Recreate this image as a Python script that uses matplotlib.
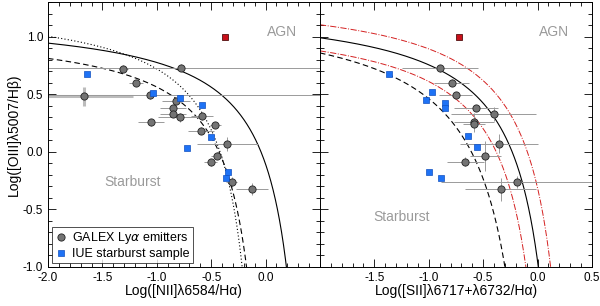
import numpy as np
import matplotlib
matplotlib.use("Agg")
import matplotlib.pyplot as plt
from matplotlib.ticker import MultipleLocator

plt.rcParams['font.family'] = ['Liberation Sans', 'DejaVu Sans']
plt.rcParams['font.size'] = 8.5

# GALEX Lya emitters, [NII] panel
nii_x = [-1.666, -1.308, -0.778, -1.191, -1.065, -0.826, -0.851, -0.851, -0.790,
         -1.053, -0.582, -0.462, -0.594, -0.352, -0.450, -0.505, -0.312, -0.125]
nii_y = [0.481, 0.722, 0.728, 0.597, 0.490, 0.437, 0.380, 0.328, 0.300,
         0.255, 0.310, 0.232, 0.183, 0.070, -0.035, -0.093, -0.263, -0.322]
nii_xerr = [0.45, 0.04, 1.8, 0.06, 1.6, 0.13, 0.12, 0.12, 0.2,
            0.12, 0.1, 0.05, 0.12, 0.28, 0.05, 0.06, 0.05, 0.15]
nii_yerr = [0.08, 0.03, 0.03, 0.03, 0.03, 0.03, 0.03, 0.03, 0.04,
            0.03, 0.03, 0.03, 0.03, 0.06, 0.03, 0.03, 0.04, 0.05]

# GALEX Lya emitters, [SII] panel
sii_x = [-0.90, -0.79, -0.753, -0.567, -0.405, -0.585, -0.585, -0.353, -0.48, -0.666, -0.185, -0.34]
sii_y = [0.725, 0.600, 0.490, 0.380, 0.328, 0.255, 0.238, 0.070, -0.035, -0.087, -0.263, -0.325]
sii_xerr = [0.35, 0.16, 0.15, 0.2, 0.39, 0.18, 0.1, 0.36, 0.14, 0.17, 0.7, 0.33]
sii_yerr = [0.03, 0.03, 0.03, 0.03, 0.06, 0.08, 0.03, 0.08, 0.13, 0.04, 0.05, 0.1]

# IUE starburst sample
iue_nii = [-1.644, -1.035, -0.787, -0.587, -0.505, -0.722, -0.348, -0.367]
iue_nii_y = [0.672, 0.510, 0.470, 0.403, 0.128, 0.035, -0.177, -0.226]
iue_sii = [-1.37, -0.973, -1.026, -0.85, -0.85, -0.635, -0.56, -1.0, -0.889]
iue_sii_y = [0.672, 0.516, 0.446, 0.42, 0.38, 0.136, 0.043, -0.176, -0.226]

# AGN point
agn_nii, agn_sii, agn_y = -0.37, -0.726, 1.0

gray_pt = '#747474'
blue = '#1e72f5'
errc = '#9a9a9a'


def hyper(x, a, b, c):
    return a / (x - b) + c


fig = plt.figure(figsize=(6.0, 3.06), dpi=100)
ax1 = fig.add_axes([0.08, 0.1275, 0.4533, 0.866])
ax2 = fig.add_axes([0.5333, 0.1275, 0.4533, 0.866])

for ax in (ax1, ax2):
    ax.set_xlim(-2.0, 0.5)
    ax.set_ylim(-1.0, 1.3)
    ax.xaxis.set_major_locator(MultipleLocator(0.5))
    ax.xaxis.set_minor_locator(MultipleLocator(0.1))
    ax.yaxis.set_major_locator(MultipleLocator(0.5))
    ax.yaxis.set_minor_locator(MultipleLocator(0.1))
    ax.tick_params(which='both', direction='in', top=True, right=True, width=0.6)
    ax.tick_params(which='major', length=6, labelsize=8.5)
    ax.tick_params(which='minor', length=3)
    for s in ax.spines.values():
        s.set_linewidth(0.7)
    ax.text(0.15, 1.04, 'AGN', color='#9a9a9a', fontsize=10, ha='center', va='center')

# left panel: [NII]
ax1.set_xticks([-2.0, -1.5, -1.0, -0.5, 0.0])
ax1.set_xticklabels(['-2.0', '-1.5', '-1.0', '-0.5', '0.0'])
ax1.set_yticks([-1.0, -0.5, 0.0, 0.5, 1.0])
ax1.set_yticklabels(['-1.0', '-0.5', '0.0', '0.5', '1.0'])

x = np.linspace(-2.0, 0.46, 800)
ax1.plot(x, hyper(x, 0.61, 0.47, 1.19), color='k', lw=0.8)
x = np.linspace(-2.0, 0.04, 800)
ax1.plot(x, hyper(x, 0.61, 0.05, 1.30), color='k', lw=0.8, ls=(0, (1, 2)))
x = np.linspace(-2.0, 0.09, 800)
ax1.plot(x, hyper(x, 0.573, 0.1, 1.083), color='k', lw=0.8, ls=(0, (5, 3)))

ax1.errorbar(nii_x[:1], nii_y[:1], xerr=nii_xerr[:1], yerr=nii_yerr[:1], fmt='none',
             ecolor='#bcbcbc', elinewidth=2.2, capsize=0, zorder=2)
ax1.errorbar(nii_x[1:], nii_y[1:], xerr=nii_xerr[1:], yerr=nii_yerr[1:], fmt='none',
             ecolor=errc, elinewidth=0.7, capsize=0, zorder=2)
ax1.plot(nii_x, nii_y, 'o', ms=5.2, mfc=gray_pt, mec='#222222', mew=0.6, zorder=4,
         label=r'GALEX Ly$\alpha$ emitters')
ax1.plot(iue_nii, iue_nii_y, 's', ms=3.8, mfc=blue, mec='#1050c0', mew=0.5, zorder=5,
         label='IUE starburst sample')
ax1.plot([agn_nii], [agn_y], 's', ms=4.0, mfc='#c8101a', mec='#501010', mew=0.6, zorder=5)
ax1.text(-1.22, -0.26, 'Starburst', color='#9a9a9a', fontsize=10, ha='center', va='center')
ax1.set_xlabel('Log([NII]λ6584/Hα)', fontsize=10, labelpad=0)
ax1.set_ylabel('Log([OIII]λ5007/Hβ)', fontsize=10, labelpad=1)

leg = ax1.legend(loc='lower left', frameon=True, fancybox=False, fontsize=9,
                 handlelength=1.0, handletextpad=0.4, borderpad=0.25, labelspacing=0.15,
                 borderaxespad=0.3)
leg.get_frame().set_edgecolor('k')
leg.get_frame().set_linewidth(0.6)

# right panel: [SII]
ax2.set_xticks([-1.5, -1.0, -0.5, 0.0, 0.5])
ax2.set_xticklabels(['-1.5', '-1.0', '-0.5', '0.0', '0.5'])
ax2.set_yticklabels([])

x = np.linspace(-2.0, 0.31, 800)
ax2.plot(x, hyper(x, 0.72, 0.32, 1.30), color='k', lw=0.8)
x = np.linspace(-2.0, 0.41, 800)
ax2.plot(x, hyper(x, 0.72, 0.42, 1.40), color='#d42020', lw=0.7, ls='-.')
x = np.linspace(-2.0, 0.21, 800)
ax2.plot(x, hyper(x, 0.72, 0.22, 1.20), color='#d42020', lw=0.7, ls='-.')
x = np.linspace(-2.0, 0.09, 800)
ax2.plot(x, hyper(x, 0.918, 0.1, 1.295), color='k', lw=0.8, ls=(0, (5, 3)))

ax2.errorbar(sii_x, sii_y, xerr=sii_xerr, yerr=sii_yerr, fmt='none',
             ecolor=errc, elinewidth=0.7, capsize=0, zorder=2)
ax2.plot(sii_x, sii_y, 'o', ms=5.2, mfc=gray_pt, mec='#222222', mew=0.6, zorder=4)
ax2.plot(iue_sii, iue_sii_y, 's', ms=3.8, mfc=blue, mec='#1050c0', mew=0.5, zorder=5)
ax2.plot([agn_sii], [agn_y], 's', ms=4.0, mfc='#c8101a', mec='#501010', mew=0.6, zorder=5)
ax2.text(-1.25, -0.57, 'Starburst', color='#9a9a9a', fontsize=10, ha='center', va='center')
ax2.set_xlabel('Log([SII]λ6717+λ6732/Hα)', fontsize=10, labelpad=0)

fig.savefig('out.png', dpi=100)
